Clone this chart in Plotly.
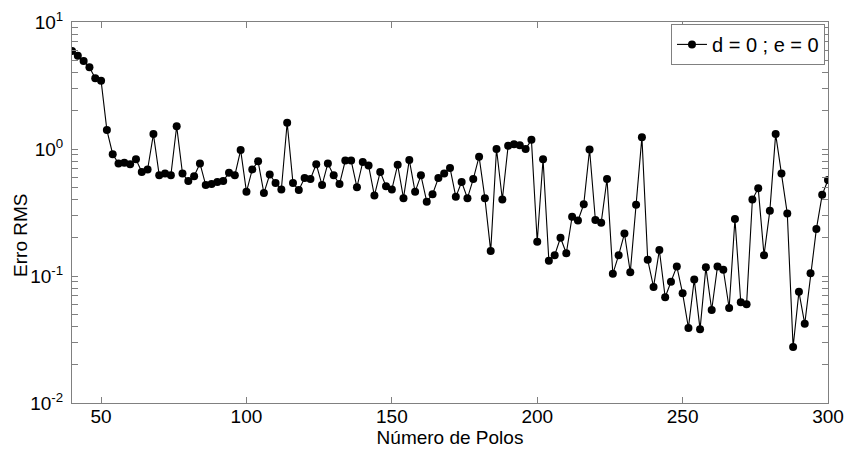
import plotly.graph_objects as go

polos = list(range(40, 301, 2))
erro_rms = [
    5.9, 5.43, 4.93, 4.4, 3.6, 3.45, 1.41, 0.91, 0.77, 0.78,
    0.76, 0.83, 0.66, 0.69, 1.31, 0.62, 0.64, 0.62, 1.51, 0.64,
    0.56, 0.61, 0.77, 0.52, 0.53, 0.55, 0.56, 0.65, 0.62, 0.98,
    0.46, 0.69, 0.80, 0.45, 0.63, 0.54, 0.48, 1.61, 0.54, 0.475,
    0.59, 0.58, 0.76, 0.52, 0.77, 0.62, 0.53, 0.81, 0.81, 0.50,
    0.79, 0.74, 0.43, 0.66, 0.51, 0.48, 0.75, 0.41, 0.82, 0.46,
    0.62, 0.385, 0.44, 0.59, 0.64, 0.71, 0.42, 0.55, 0.41, 0.58,
    0.87, 0.41, 0.157, 1.0, 0.40, 1.06, 1.09, 1.07, 1.0, 1.18,
    0.186, 0.83, 0.132, 0.146, 0.20, 0.151, 0.293, 0.273, 0.367, 0.99,
    0.276, 0.263, 0.58, 0.104, 0.146, 0.216, 0.107, 0.364, 1.24, 0.134,
    0.082, 0.160, 0.068, 0.090, 0.119, 0.073, 0.039, 0.094, 0.038, 0.117,
    0.054, 0.119, 0.112, 0.056, 0.281, 0.062, 0.060, 0.40, 0.49, 0.146,
    0.327, 1.31, 0.64, 0.31, 0.0276, 0.075, 0.042, 0.105, 0.234, 0.436,
    0.57,
]
serie_nome = "d = 0 ; e = 0"
titulo_x = "Número de Polos"
titulo_y = "Erro RMS"
x_ticks = [50, 100, 150, 200, 250, 300]

# log-axis ticks: decades labelled, 2..9 multiples unlabelled
y_tickvals = []
y_ticktext = []
for e in range(-2, 2):
    for m in range(1, 10):
        y_tickvals.append(m * 10 ** e)
        y_ticktext.append(f"10<sup>{e}</sup>" if m == 1 else "")
y_tickvals.append(10)
y_ticktext.append("10<sup>1</sup>")

font = "Liberation Sans, Arial, sans-serif"
gray = "#808080"

fig = go.Figure()
fig.add_trace(go.Scatter(
    x=polos, y=erro_rms, mode="lines+markers", name=serie_nome,
    line=dict(color="black", width=1.1),
    marker=dict(color="black", size=8),
))

fig.update_layout(
    width=847, height=450,
    margin=dict(l=72, r=19, t=22, b=47),
    plot_bgcolor="white", paper_bgcolor="white",
    font=dict(family=font, size=19, color="black"),
    showlegend=True,
    legend=dict(
        x=0.996, y=0.995, xanchor="right", yanchor="top",
        bgcolor="white", bordercolor=gray, borderwidth=1,
        font=dict(size=20), itemwidth=30,
        tracegroupgap=0,
    ),
    xaxis=dict(
        range=[40, 300], tickvals=x_ticks, automargin=False,
        showgrid=False, zeroline=False,
        showline=True, linecolor=gray, linewidth=1, mirror="ticks",
        ticks="inside", ticklen=6, tickcolor=gray,
        ticklabelstandoff=-4,
        title=dict(text=titulo_x, standoff=0, font=dict(size=19)),
    ),
    yaxis=dict(
        type="log", range=[-2, 1], automargin=False,
        tickvals=y_tickvals, ticktext=y_ticktext,
        showgrid=False, zeroline=False,
        showline=True, linecolor=gray, linewidth=1, mirror="ticks",
        ticks="inside", ticklen=6, tickcolor=gray,
        ticklabelstandoff=4,
    ),
    annotations=[dict(
        text=titulo_y, textangle=-90, showarrow=False,
        xref="paper", yref="paper", x=-0.068, y=0.44,
        xanchor="center", yanchor="middle",
        font=dict(size=19, family=font, color="black"),
    )],
)

fig.write_html("out.html")
